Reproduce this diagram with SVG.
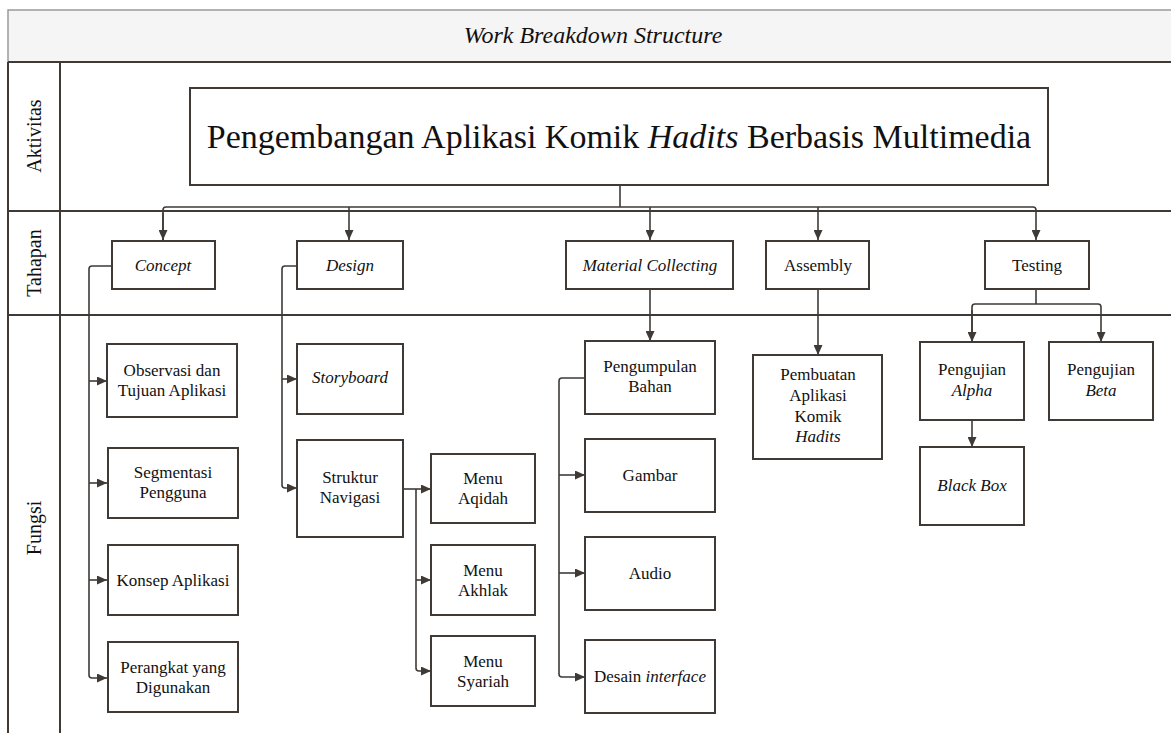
<svg xmlns="http://www.w3.org/2000/svg" width="1171" height="733" viewBox="0 0 1171 733">
<style>
.box{fill:#fff;stroke:#3f3a36;stroke-width:2}
.frame{stroke:#3f3a36;stroke-width:2;fill:none}
.con{stroke:#3f3a36;stroke-width:1.6;fill:none}
text{font-family:"Liberation Serif","Times New Roman",serif;fill:#111;text-anchor:middle}
.t{font-size:17px}
.i{font-style:italic}
</style>
<defs>
<marker id="arr" markerUnits="userSpaceOnUse" markerWidth="11" markerHeight="9" refX="10" refY="4.5" orient="auto">
<path d="M0,0 L10,4.5 L0,9 z" fill="#3f3a36"/>
</marker>
</defs>
<g id="frame">
<rect x="8" y="10" width="1170" height="52" fill="#f5f5f5" stroke="#9a9a9a" stroke-width="1.5"/>
<line class="frame" x1="8" y1="62" x2="1171" y2="62"/>
<line class="frame" x1="8" y1="62" x2="8" y2="733"/>
<line class="frame" x1="60" y1="62" x2="60" y2="733"/>
<line class="frame" x1="8" y1="211" x2="1171" y2="211"/>
<line class="frame" x1="8" y1="315" x2="1171" y2="315"/>
<text x="593" y="43" class="i" font-size="24">Work Breakdown Structure</text>
<text transform="translate(41,136) rotate(-90)" font-size="20">Aktivitas</text>
<text transform="translate(41,263) rotate(-90)" font-size="20">Tahapan</text>
<text transform="translate(41,528) rotate(-90)" font-size="20">Fungsi</text>
</g>
<g id="connectors">
<path class="con" d="M620 185 V207"/>
<path class="con" d="M163 240 V210 Q163 207 166 207 H1033 Q1036 207 1036 210 V240" marker-end="url(#arr)"/>
<path class="con" d="M163 213 V240" marker-end="url(#arr)"/>
<path class="con" d="M349 207 V240" marker-end="url(#arr)"/>
<path class="con" d="M650 207 V240" marker-end="url(#arr)"/>
<path class="con" d="M818 207 V240" marker-end="url(#arr)"/>
<path class="con" d="M112 266 H92 Q89 266 89 269 V675 Q89 678 92 678 H107" marker-end="url(#arr)"/>
<path class="con" d="M89 381 H107" marker-end="url(#arr)"/>
<path class="con" d="M89 483 H107" marker-end="url(#arr)"/>
<path class="con" d="M89 580 H107" marker-end="url(#arr)"/>
<path class="con" d="M297 266 H285 Q282 266 282 269 V485 Q282 488 285 488 H297" marker-end="url(#arr)"/>
<path class="con" d="M282 379 H297" marker-end="url(#arr)"/>
<path class="con" d="M403 489 H431" marker-end="url(#arr)"/>
<path class="con" d="M416 489 V668 Q416 671 419 671 H431" marker-end="url(#arr)"/>
<path class="con" d="M416 580 H431" marker-end="url(#arr)"/>
<path class="con" d="M650 289 V341" marker-end="url(#arr)"/>
<path class="con" d="M585 378 H562 Q559 378 559 381 V674 Q559 677 562 677 H585" marker-end="url(#arr)"/>
<path class="con" d="M559 475 H585" marker-end="url(#arr)"/>
<path class="con" d="M559 573 H585" marker-end="url(#arr)"/>
<path class="con" d="M818 289 V355" marker-end="url(#arr)"/>
<path class="con" d="M1036 289 V304"/>
<path class="con" d="M972 342 V307 Q972 304 975 304 H1098 Q1101 304 1101 307 V342" marker-end="url(#arr)"/>
<path class="con" d="M972 310 V342" marker-end="url(#arr)"/>
<path class="con" d="M972 420 V447" marker-end="url(#arr)"/>
</g>
<g id="main"><rect class="box" x="190" y="88" width="858" height="97"/>
<text x="619" y="148" font-size="34">Pengembangan Aplikasi Komik <tspan class="i">Hadits</tspan> Berbasis Multimedia</text></g>
<g id="concept"><rect class="box" x="112" y="241" width="103" height="48"/><text x="163" y="271" class="t i">Concept</text></g>
<g id="design"><rect class="box" x="297" y="241" width="106" height="48"/><text x="350" y="271" class="t i">Design</text></g>
<g id="material"><rect class="box" x="566" y="241" width="167" height="48"/><text x="650" y="271" class="t i">Material Collecting</text></g>
<g id="assembly"><rect class="box" x="766" y="241" width="103" height="48"/><text x="818" y="271" class="t">Assembly</text></g>
<g id="testing"><rect class="box" x="985" y="241" width="104" height="48"/><text x="1037" y="271" class="t">Testing</text></g>
<g id="observasi"><rect class="box" x="107" y="344" width="130" height="73"/><text x="172" y="376" class="t">Observasi dan</text><text x="172" y="396" class="t">Tujuan Aplikasi</text></g>
<g id="segmentasi"><rect class="box" x="108" y="448" width="130" height="70"/><text x="173" y="478" class="t">Segmentasi</text><text x="173" y="498" class="t">Pengguna</text></g>
<g id="konsep"><rect class="box" x="108" y="545" width="130" height="70"/><text x="173" y="586" class="t">Konsep Aplikasi</text></g>
<g id="perangkat"><rect class="box" x="108" y="642" width="130" height="70"/><text x="173" y="673" class="t">Perangkat yang</text><text x="173" y="693" class="t">Digunakan</text></g>
<g id="storyboard"><rect class="box" x="297" y="344" width="106" height="70"/><text x="350" y="383" class="t i">Storyboard</text></g>
<g id="struktur"><rect class="box" x="297" y="440" width="106" height="97"/><text x="350" y="483" class="t">Struktur</text><text x="350" y="503" class="t">Navigasi</text></g>
<g id="aqidah"><rect class="box" x="431" y="454" width="104" height="69"/><text x="483" y="484" class="t">Menu</text><text x="483" y="504" class="t">Aqidah</text></g>
<g id="akhlak"><rect class="box" x="431" y="545" width="104" height="70"/><text x="483" y="576" class="t">Menu</text><text x="483" y="596" class="t">Akhlak</text></g>
<g id="syariah"><rect class="box" x="431" y="636" width="104" height="70"/><text x="483" y="667" class="t">Menu</text><text x="483" y="687" class="t">Syariah</text></g>
<g id="pengumpulan"><rect class="box" x="585" y="341" width="130" height="73"/><text x="650" y="372" class="t">Pengumpulan</text><text x="650" y="392" class="t">Bahan</text></g>
<g id="gambar"><rect class="box" x="585" y="439" width="130" height="73"/><text x="650" y="481" class="t">Gambar</text></g>
<g id="audio"><rect class="box" x="585" y="537" width="130" height="73"/><text x="650" y="579" class="t">Audio</text></g>
<g id="desain"><rect class="box" x="585" y="640" width="130" height="73"/><text x="650" y="682" class="t">Desain <tspan class="i">interface</tspan></text></g>
<g id="pembuatan"><rect class="box" x="753" y="355" width="129" height="104"/><text x="818" y="380" class="t">Pembuatan</text><text x="818" y="401" class="t">Aplikasi</text><text x="818" y="422" class="t">Komik</text><text x="818" y="442" class="t i">Hadits</text></g>
<g id="alpha"><rect class="box" x="920" y="342" width="104" height="78"/><text x="972" y="375" class="t">Pengujian</text><text x="972" y="396" class="t i">Alpha</text></g>
<g id="beta"><rect class="box" x="1049" y="342" width="104" height="78"/><text x="1101" y="375" class="t">Pengujian</text><text x="1101" y="396" class="t i">Beta</text></g>
<g id="blackbox"><rect class="box" x="920" y="447" width="104" height="78"/><text x="972" y="491" class="t i">Black Box</text></g>
</svg>
